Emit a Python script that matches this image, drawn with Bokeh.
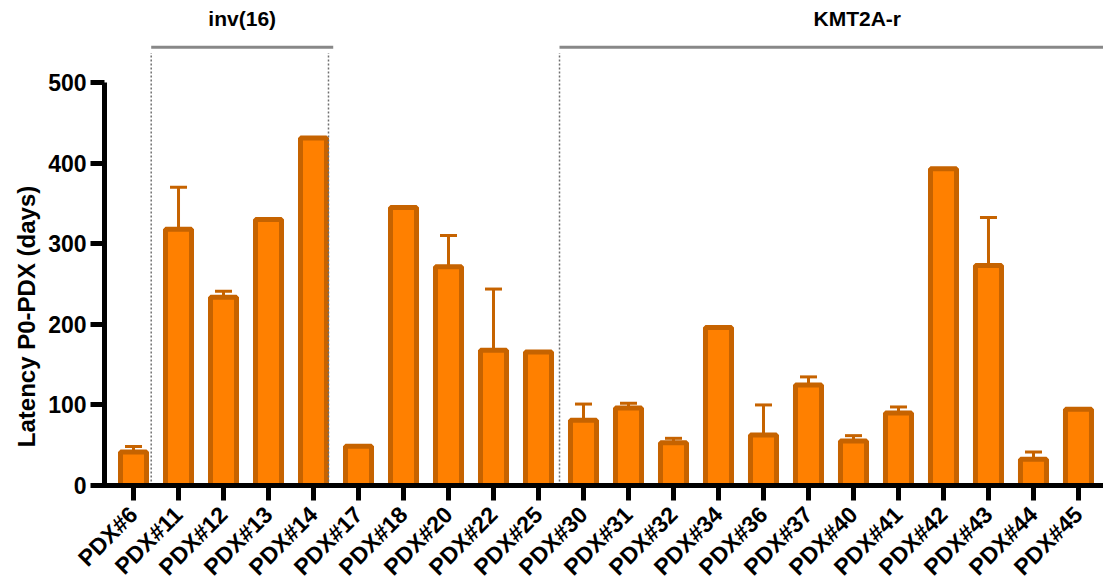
import math
from bokeh.plotting import figure
from bokeh.models import (Range1d, FixedTicker, ColumnDataSource, Whisker, TeeHead)
from bokeh.core.properties import value
from bokeh.embed import file_html
from bokeh.resources import INLINE

# ---- data ----
samples = ["PDX#6", "PDX#11", "PDX#12", "PDX#13", "PDX#14", "PDX#17", "PDX#18",
           "PDX#20", "PDX#22", "PDX#25", "PDX#30", "PDX#31", "PDX#32", "PDX#34",
           "PDX#36", "PDX#37", "PDX#40", "PDX#41", "PDX#42", "PDX#43", "PDX#44",
           "PDX#45"]
latency = [41.6, 318, 233.5, 330, 431, 48.6, 345, 271.5, 167.7, 165.6,
           81, 96, 53, 196, 62.7, 124.7, 55.2, 90, 393, 273, 32.5, 94.5]
error_sd = [6.8, 52, 7.5, 0, 0, 0, 0, 38.7, 76, 0,
            20, 6, 5.5, 0, 37.2, 10, 6.6, 7.4, 0, 59.5, 9, 0]
y_ticks = [0, 100, 200, 300, 400, 500]
y_title = "Latency P0-PDX (days)"
groups = ["inv(16)", "KMT2A-r"]
group_first = ["PDX#11", "PDX#30"]
group_last = ["PDX#14", "PDX#45"]

# ---- style / layout ----
FONT = "Liberation Sans"
BAR_FILL = "#FF8000"
BAR_LINE = "#C66300"
GRAY = "#888888"

xs = list(range(len(samples)))
src = ColumnDataSource(dict(x=xs, y=latency, name=samples))

err_idx = [i for i, e in enumerate(error_sd) if e > 0]
err_src = ColumnDataSource(dict(
    x=[xs[i] for i in err_idx],
    lower=[latency[i] for i in err_idx],
    upper=[latency[i] + error_sd[i] for i in err_idx],
))

# whole canvas is the frame; axes are pinned inside it
XS, X1 = -2.956, 21.556      # canvas x extent in category units
YS, YE = -126.6, 601.7       # canvas y extent in data units
Y_AXIS_AT = -0.644           # where the value axis sits

p = figure(width=1103, height=587,
           x_range=Range1d(XS, X1), y_range=Range1d(YS, YE),
           output_backend="svg", toolbar_location=None,
           min_border_left=0, min_border_right=0, min_border_top=0,
           min_border_bottom=0)
p.outline_line_color = None
p.xgrid.visible = False
p.ygrid.visible = False
p.background_fill_color = "white"
p.border_fill_color = "white"

p.vbar(x="x", top="y", bottom=0, width=0.578, source=src,
       fill_color=BAR_FILL, line_color=BAR_LINE, line_width=5)

whisk = Whisker(base="x", lower="lower", upper="upper", source=err_src,
                dimension="height", line_color=BAR_LINE, line_width=3,
                upper_head=TeeHead(size=17, line_color=BAR_LINE, line_width=3),
                lower_head=None)
p.add_layout(whisk)

# group annotations
line_y = 543.8
dot_top = 536.6
text_y = 579.4
lo_off = [0.607, 0.533]
hi_off_line = [0.438, 1.7]
hi_off_dot = [0.333, None]
for gi, g in enumerate(groups):
    a = samples.index(group_first[gi])
    b = samples.index(group_last[gi])
    left = a - lo_off[gi]
    right = b + hi_off_line[gi]
    p.segment(x0=[left], y0=[line_y], x1=[right], y1=[line_y],
              line_color=GRAY, line_width=3)
    p.segment(x0=[left], y0=[0], x1=[left], y1=[dot_top],
              line_color="#707070", line_width=1.5, line_dash="2 2")
    if hi_off_dot[gi] is not None:
        rd = b + hi_off_dot[gi]
        p.segment(x0=[rd], y0=[0], x1=[rd], y1=[dot_top],
                  line_color="#707070", line_width=1.5, line_dash="2 2")
    p.text(x=[(left + right) / 2], y=[text_y], text=[g],
           text_font=value(FONT), text_font_style="bold",
           text_font_size="21px", text_align="center",
           text_baseline="middle", text_color="black")

# value-axis title (rotated text)
p.text(x=[-2.378], y=[209.7], text=[y_title], angle=math.pi / 2,
       text_font=value(FONT), text_font_style="bold", text_font_size="24px",
       text_align="center", text_baseline="middle", text_color="black")

# axes
ya = p.yaxis[0]
ya.fixed_location = Y_AXIS_AT
ya.ticker = FixedTicker(ticks=y_ticks)
ya.bounds = (0, 500)
ya.axis_line_width = 5
ya.axis_line_color = "black"
ya.major_tick_line_width = 5
ya.major_tick_out = 14
ya.major_tick_in = 0
ya.minor_tick_line_color = None
ya.major_label_text_font = FONT
ya.major_label_text_font_style = "bold"
ya.major_label_text_font_size = "23px"
ya.major_label_text_color = "black"
ya.major_label_standoff = 4

xa = p.xaxis[0]
xa.fixed_location = 0
xa.bounds = (Y_AXIS_AT - 0.06, X1)
xa.ticker = FixedTicker(ticks=xs)
xa.major_label_overrides = {i: s for i, s in zip(xs, samples)}
xa.major_label_orientation = math.pi / 4
xa.axis_line_width = 5
xa.axis_line_color = "black"
xa.major_tick_line_width = 5
xa.major_tick_out = 15
xa.major_tick_in = 0
xa.minor_tick_line_color = None
xa.major_label_text_font = FONT
xa.major_label_text_font_style = "bold"
xa.major_label_text_font_size = "23px"
xa.major_label_text_color = "black"
xa.major_label_standoff = 10

open("out.html", "w").write(file_html(p, INLINE))
